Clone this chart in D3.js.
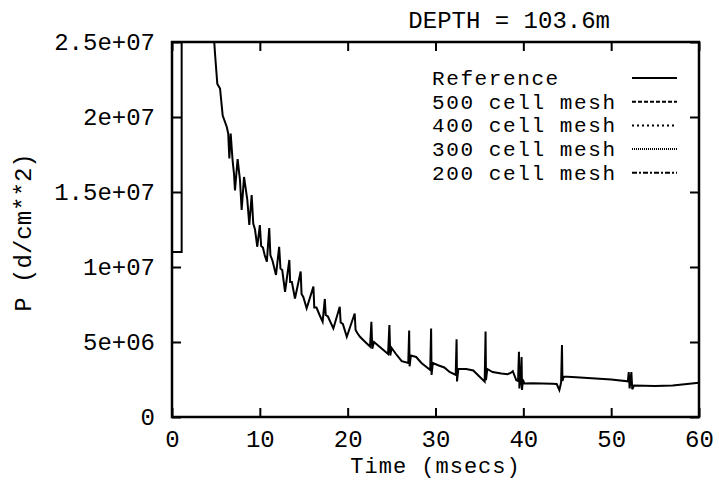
<!DOCTYPE html>
<html>
<head>
<meta charset="utf-8">
<script src="https://cdn.jsdelivr.net/npm/d3@7"></script>
<style>
  body { margin: 0; background: #fff; }
  text { font-family: "Liberation Mono", "DejaVu Sans Mono", monospace; fill: #000; }
</style>
</head>
<body>
<script>
// time in msecs, pressure in units of 1e6 d/cm**2
const refTime = [0, 1.1, 1.1, 4.7, 4.9, 5.16, 5.47, 5.77, 6.23, 6.4, 6.53, 6.68, 6.9, 7.06, 7.17, 7.47, 7.74, 7.93, 8.2, 8.57, 8.8,
  9.07, 9.25, 9.45, 9.71, 10.0, 10.15, 10.35, 10.55, 10.8, 11.07, 11.2, 11.45, 11.84, 12.2, 12.35, 12.55, 12.87, 13.36, 13.45, 13.65, 14.0,
  14.65, 14.75, 14.95, 15.33, 16.1, 16.2, 16.45, 16.8, 17.15, 17.4, 17.5, 17.75, 18.37, 19.1, 19.2, 19.45, 19.9, 20.8, 20.9, 21.1, 21.4,
  22.0, 22.55, 22.7, 22.8, 23.0, 23.4, 24.0, 24.6, 24.75, 24.85, 25.0, 25.5, 26.15, 26.9, 27.0, 27.05, 27.2, 27.8, 28.4, 29.4, 29.5, 29.55,
  29.7, 30.3, 31.0, 31.6, 32.3, 32.4, 32.45, 32.6, 33.5, 34.3, 35.0, 35.6, 35.7, 35.75, 35.9, 36.5, 37.5, 38.2, 38.6, 38.8, 39.2, 39.4,
  39.5, 39.55, 39.7, 39.8, 39.85, 39.95, 40.1, 41.0, 43.3, 43.8, 44.1, 44.3, 44.4, 44.45, 44.6, 46.0, 50.0, 51.9, 52.0, 52.1, 52.3, 52.4,
  52.6, 55.0, 57.0, 60.0];
const refP = [11.0, 11.0, 26.0, 26.0, 24.2, 22.2, 21.9, 20.1, 19.35, 18.9, 17.24, 18.9, 17.1, 16.2, 15.1, 17.2, 15.8, 13.8, 16.0, 14.5, 12.8,
  14.8, 12.9, 12.5, 11.35, 12.8, 11.4, 11.3, 10.8, 10.35, 12.6, 10.8, 10.4, 9.47, 11.35, 9.9, 9.8, 8.35, 10.47, 9.0, 9.0, 7.9,
  9.7, 8.2, 8.0, 7.24, 8.69, 7.3, 7.3, 6.8, 6.35, 7.87, 6.8, 6.7, 5.9, 7.35, 6.3, 6.2, 5.35, 6.9, 5.8, 5.6, 5.35,
  5.0, 4.7, 6.35, 4.55, 5.0, 4.8, 4.5, 4.2, 6.13, 4.1, 4.6, 4.2, 3.72, 3.6, 5.76, 3.38, 4.1, 4.0, 3.6, 3.13, 5.9, 2.8,
  3.6, 3.45, 3.3, 3.0, 2.8, 5.19, 2.37, 3.2, 3.2, 3.1, 2.7, 2.36, 5.7, 2.45, 3.2, 3.0, 2.9, 2.85, 2.95, 3.05, 2.45, 2.4,
  4.35, 1.9, 2.6, 4.0, 1.8, 2.5, 2.24, 2.25, 2.22, 2.2, 1.8, 2.3, 4.8, 2.4, 2.7, 2.65, 2.5, 2.38, 3.0, 1.9, 3.0, 1.85,
  2.1, 2.07, 2.1, 2.29];

const seriesNames = ["Reference", "500 cell mesh", "400 cell mesh", "300 cell mesh", "200 cell mesh"];
const seriesDash = ["none", "4,2", "2,3", "1,1", "5,2,2,2"];

const xTicks = [0, 10, 20, 30, 40, 50, 60];
const yTicks = [0, 5, 10, 15, 20, 25];
const yTickLabels = ["0", "5e+06", "1e+07", "1.5e+07", "2e+07", "2.5e+07"];

const width = 719;
const height = 481;
const mLeft = 172, mRight = 699, mTop = 42, mBottom = 417;
const fontSize = 24;

const data = refTime.map((t, i) => ({t: t, p: refP[i]}));

// scales
const xScale = d3.scaleLinear().domain([0, 60]).range([mLeft, mRight]);
const yScale = d3.scaleLinear().domain([0, 25]).range([mBottom, mTop]);

const svg = d3.select("body")
  .append("svg")
  .attr("width", width)
  .attr("height", height);

svg.append("clipPath").attr("id", "plot")
  .append("rect")
  .attr("x", mLeft).attr("y", mTop)
  .attr("width", mRight - mLeft).attr("height", mBottom - mTop);

// curve
const line = d3.line().x(d => xScale(d.t)).y(d => yScale(d.p));
svg.append("path")
  .datum(data)
  .attr("clip-path", "url(#plot)")
  .attr("d", line)
  .attr("fill", "none")
  .attr("stroke", "#000")
  .attr("stroke-width", 2);

// axes, ticks pointing inward on all four sides
const tickLen = 9;
svg.append("g")
  .attr("transform", "translate(0," + mBottom + ")")
  .call(d3.axisBottom(xScale).tickValues(xTicks).tickSize(-tickLen).tickPadding(13).tickFormat(d3.format("d")));
svg.append("g")
  .attr("transform", "translate(0," + mTop + ")")
  .call(d3.axisTop(xScale).tickValues(xTicks).tickSize(-tickLen).tickFormat(""));
svg.append("g")
  .attr("transform", "translate(" + mLeft + ",0)")
  .call(d3.axisLeft(yScale).tickValues(yTicks).tickSize(-tickLen).tickPadding(17).tickFormat((d, i) => yTickLabels[i]));
svg.append("g")
  .attr("transform", "translate(" + mRight + ",0)")
  .call(d3.axisRight(yScale).tickValues(yTicks).tickSize(-tickLen).tickFormat(""));

svg.selectAll(".domain").remove();
svg.selectAll(".tick line").attr("stroke", "#000").attr("stroke-width", 2);
svg.selectAll(".tick text").attr("font-size", fontSize).attr("font-family", "Liberation Mono").attr("fill", "#000");

// frame
svg.append("rect")
  .attr("x", mLeft).attr("y", mTop)
  .attr("width", mRight - mLeft).attr("height", mBottom - mTop)
  .attr("fill", "none")
  .attr("stroke", "#000")
  .attr("stroke-width", 2.5);

// labels
svg.append("text")
  .attr("x", xScale(30)).attr("y", 473)
  .attr("text-anchor", "middle")
  .attr("font-size", 22)
  .attr("letter-spacing", 1)
  .text("Time (msecs)");

svg.append("text")
  .attr("transform", "translate(31," + ((mTop + mBottom) / 2 + 3) + ") rotate(-90)")
  .attr("text-anchor", "middle")
  .attr("font-size", fontSize)
  .text("P (d/cm**2)");

svg.append("text")
  .attr("x", 610).attr("y", 28)
  .attr("text-anchor", "end")
  .attr("font-size", fontSize)
  .text("DEPTH = 103.6m");

// legend (slightly smaller type, letter-spaced so rows don't collide)
const legend = svg.append("g");
seriesNames.forEach((name, i) => {
  const y = 85 + i * 23.7;
  legend.append("text")
    .attr("x", 432).attr("y", y)
    .attr("font-size", 21)
    .attr("letter-spacing", 1.6)
    .text(name);
  legend.append("line")
    .attr("x1", 632).attr("x2", 677)
    .attr("y1", y - 7).attr("y2", y - 7)
    .attr("stroke", "#000")
    .attr("stroke-width", 2)
    .attr("stroke-dasharray", seriesDash[i]);
});
</script>
</body>
</html>
